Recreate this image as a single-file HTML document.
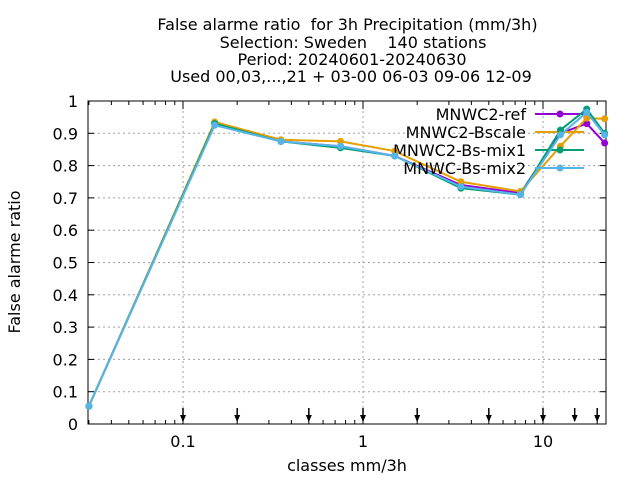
<!DOCTYPE html>
<html><head><meta charset="utf-8"><style>
body{margin:0;background:#fff}
svg{font-family:"DejaVu Sans",sans-serif;font-size:16px}
text{white-space:pre}
</style></head><body>
<svg id="c" width="640" height="480">
<g text-anchor="middle" font-size="16">
<text x="347.5" y="30" xml:space="preserve">False alarme ratio  for 3h Precipitation (mm/3h)</text>
<text x="353" y="48" xml:space="preserve">Selection: Sweden    140 stations</text>
<text x="352" y="65">Period: 20240601-20240630</text>
<text x="351" y="82">Used 00,03,...,21 + 03-00 06-03 09-06 12-09</text>
</g>
<text x="20" y="262" text-anchor="middle" transform="rotate(-90 20 262)">False alarme ratio</text>
<text x="347" y="471" text-anchor="middle">classes mm/3h</text>
</svg>
<script>
const xVals=[0.03,0.15,0.35,0.75,1.5,3.5,7.5,12.5,17.5,22];
const seriesNames=["MNWC2-ref","MNWC2-Bscale","MNWC2-Bs-mix1","MNWC-Bs-mix2"];
const ref=[0.055,0.93,0.875,0.86,0.83,0.74,0.715,0.90,0.93,0.87];
const bscale=[0.055,0.935,0.88,0.875,0.845,0.75,0.72,0.86,0.947,0.945];
const mix1=[0.055,0.93,0.875,0.855,0.83,0.73,0.71,0.91,0.975,0.9];
const mix2=[0.055,0.925,0.875,0.86,0.83,0.735,0.71,0.895,0.965,0.895];
const yTicks=[0,0.1,0.2,0.3,0.4,0.5,0.6,0.7,0.8,0.9,1];
const xTicks=[0.1,1,10];
const arrows=[0.1,0.2,0.5,1,2,5,10,15,20];
const colors=["#9400d3","#e69f00","#009e73","#56b4e9"];
const L=88,R=606,T=101,B=424;
const sx=v=>363+180*Math.log10(v);
const sy=v=>B-(B-T)*v;
const svg=document.getElementById('c');const NS="http://www.w3.org/2000/svg";
function mk(t,a,p){const e=document.createElementNS(NS,t);for(const k in a)e.setAttribute(k,a[k]);(p||svg).appendChild(e);return e;}
const grid=mk('g',{stroke:'#a0a0a0','stroke-dasharray':'2,3','stroke-width':1});


yTicks.forEach(t=>{const y=sy(t);if(t>0&&t<1)mk('line',{x1:L,x2:R,y1:y,y2:y},grid);
const tx=mk('text',{x:L-10,y:y+6,'text-anchor':'end'});tx.textContent=t;


mk('line',{x1:L,x2:L+6,y1:y,y2:y,stroke:'#000'});mk('line',{x1:R,x2:R-6,y1:y,y2:y,stroke:'#000'});});
xTicks.forEach(t=>{const x=sx(t);mk('line',{x1:x,x2:x,y1:T,y2:B},grid);
const tx=mk('text',{x:x,y:B+23,'text-anchor':'middle'});tx.textContent=t;


mk('line',{x1:x,x2:x,y1:B,y2:B-8,stroke:'#000'});mk('line',{x1:x,x2:x,y1:T,y2:T+8,stroke:'#000'});});
for(let d=-2;d<=1;d++)for(let m=2;m<10;m++){const v=m*Math.pow(10,d),x=sx(v);if(x>L&&x<R){mk('line',{x1:x,x2:x,y1:B,y2:B-4,stroke:'#000'});mk('line',{x1:x,x2:x,y1:T,y2:T+4,stroke:'#000'});}}
const fr=mk('rect',{x:L,y:T,width:R-L,height:B-T,fill:'none',stroke:'#000'});


arrows.forEach(a=>{const x=sx(a);const g=mk('g',{});


mk('line',{x1:x,x2:x,y1:408,y2:421,stroke:'#000','stroke-width':1.5},g);
mk('path',{d:`M${x-3},415 L${x+3},415 L${x},422 Z`,fill:'#000'},g);});
const data=[ref,bscale,mix1,mix2];
data.forEach((s,i)=>{const g=mk('g',{});


mk('polyline',{points:s.map((v,j)=>sx(xVals[j])+','+sy(v)).join(' '),fill:'none',stroke:colors[i],'stroke-width':2},g);
s.forEach((v,j)=>mk('circle',{cx:sx(xVals[j]),cy:sy(v),r:3.5,fill:colors[i]},g));
const ly=114+i*18;const lg=mk('g',{});


const t=mk('text',{x:526,y:ly+6,'text-anchor':'end'},lg);t.textContent=seriesNames[i];
mk('line',{x1:535,x2:584,y1:ly,y2:ly,stroke:colors[i],'stroke-width':2},lg);
mk('circle',{cx:560,cy:ly,r:3.5,fill:colors[i]},lg);});
</script>
</body></html>
